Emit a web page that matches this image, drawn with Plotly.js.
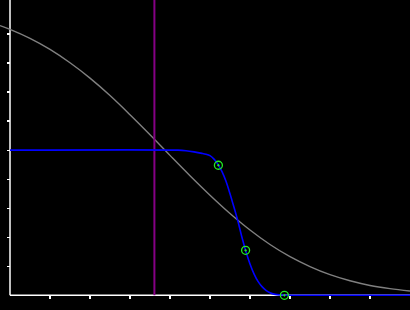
<!DOCTYPE html>
<html>
<head>
<meta charset="utf-8">
<script src="https://cdn.plot.ly/plotly-3.0.1.min.js"></script>
<style>html,body{margin:0;padding:0;background:#000;}#chart{width:410px;height:310px;}</style>
</head>
<body>
<div id="chart"></div>
<script>
// Gray decreasing curve
const grayX = [-0.25, 0, 0.5, 1, 1.5, 2, 2.5, 3, 3.5, 4, 4.5, 5, 5.5, 6, 6.5, 7, 7.5, 8, 8.5, 9, 9.5, 10];
const grayY = [9.29, 9.16, 8.85, 8.47, 8.01, 7.48, 6.88, 6.22, 5.53, 4.82, 4.12, 3.45, 2.82, 2.25, 1.75, 1.33, 0.99, 0.71, 0.50, 0.34, 0.23, 0.15];

// Blue step curve
const blueX = [0, 4.2, 4.4, 4.6, 4.8, 4.9, 5.0, 5.1, 5.2, 5.3, 5.4, 5.5, 5.6, 5.7, 5.8, 5.9, 6.0, 6.1, 6.2, 6.3, 6.4, 6.5, 6.6, 6.8, 7.0, 10];
const blueY = [5.0, 5.0, 4.98, 4.94, 4.89, 4.86, 4.81, 4.69, 4.51, 4.26, 3.93, 3.50, 3.03, 2.54, 1.99, 1.50, 1.08, 0.74, 0.48, 0.30, 0.17, 0.09, 0.04, 0.01, 0, 0];

// Vertical purple marker line
const vLineX = [3.61, 3.61];
const vLineY = [0, 11];

// Green circle points
const ptsX = [5.21, 5.89, 6.86];
const ptsY = [4.48, 1.55, 0];

// Tick positions
const xTicks = [1, 2, 3, 4, 5, 6, 7, 8, 9];
const yTicks = [1, 2, 3, 4, 5, 6, 7, 8, 9];

const traces = [
  {x: grayX, y: grayY, mode: 'lines', line: {color: '#808080', width: 1.4, shape: 'spline'}, hoverinfo: 'skip'},
  {x: vLineX, y: vLineY, mode: 'lines', line: {color: '#850085', width: 2}, hoverinfo: 'skip'},
  {x: blueX, y: blueY, mode: 'lines', line: {color: '#0000ff', width: 1.6, shape: 'spline', smoothing: 0.8}, hoverinfo: 'skip'},
  {x: ptsX, y: ptsY, mode: 'markers', marker: {symbol: 'circle-open-dot', size: 8, color: '#22ee22', line: {width: 1.3, color: '#22ee22'}}, cliponaxis: false, hoverinfo: 'skip'}
];

const layout = {
  width: 410, height: 310,
  margin: {l: 0, r: 0, t: 0, b: 0, pad: 0},
  paper_bgcolor: '#000', plot_bgcolor: '#000',
  showlegend: false,
  xaxis: {range: [-0.25, 10.0], showgrid: false, zeroline: false, showline: false,
    anchor: 'free', position: 14.7/310,
    tickmode: 'array', tickvals: xTicks, ticks: 'outside', ticklen: 3, tickwidth: 1.3, tickcolor: '#fff',
    showticklabels: false, fixedrange: true},
  yaxis: {range: [-0.506, 10.172], showgrid: false, zeroline: false, showline: false,
    anchor: 'free', position: 10.3/410,
    tickmode: 'array', tickvals: yTicks, ticks: 'outside', ticklen: 3, tickwidth: 1.3, tickcolor: '#fff',
    showticklabels: false, fixedrange: true},
  shapes: [
    {type: 'line', xref: 'x', yref: 'y', x0: 0, x1: 10.3, y0: 0, y1: 0, layer: 'below', line: {color: '#fff', width: 1.5}},
    {type: 'line', xref: 'x', yref: 'y', x0: 0, x1: 0, y0: 0, y1: 10.5, layer: 'below', line: {color: '#fff', width: 1.5}}
  ]
};

Plotly.newPlot('chart', traces, layout, {staticPlot: true, displayModeBar: false});
</script>
</body>
</html>
